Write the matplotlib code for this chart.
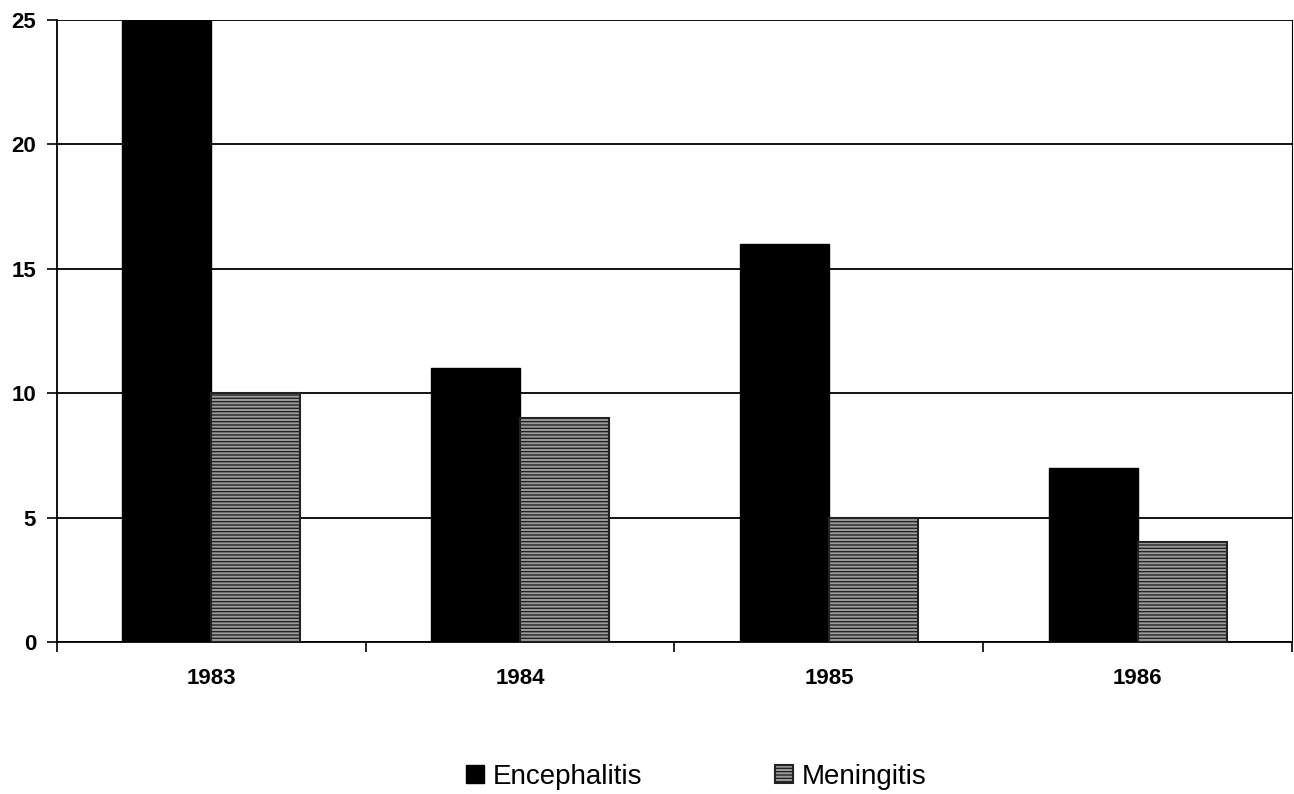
import numpy as np
import matplotlib.pyplot as plt
import matplotlib as mpl

plt.rcParams['font.family'] = ['Liberation Sans', 'DejaVu Sans']
mpl.rcParams['hatch.linewidth'] = 1.0
mpl.rcParams['hatch.color'] = '#3a3a3a'

years = ['1983', '1984', '1985', '1986']
encephalitis = [25, 11, 16, 7]
meningitis = [10, 9, 5, 4]

fig = plt.figure(figsize=(12.94, 7.94), dpi=100)
ax = fig.add_axes([0.044, 0.1914, 0.9545, 0.7836])

x = np.arange(len(years))
w = 0.288

ax.bar(x - w / 2, encephalitis, w, color='black', edgecolor='black',
       linewidth=1, label='Encephalitis', zorder=3)
ax.bar(x + w / 2, meningitis, w, color='#9c9c9c', edgecolor='#222222',
       hatch='-----', linewidth=1.5, label='Meningitis', zorder=3)

ax.set_xlim(-0.5, len(years) - 0.5)
ax.set_ylim(0, 25)
ax.set_yticks([0, 5, 10, 15, 20, 25])
ax.yaxis.grid(True, color='black', linewidth=1.3, zorder=0)
ax.set_axisbelow(True)

ax.set_xticks(x)
ax.set_xticklabels(years, fontsize=16, fontweight='bold')
ax.set_xticks(np.arange(len(years) + 1) - 0.5, minor=True)
ax.tick_params(axis='x', which='major', length=0, pad=19)
ax.tick_params(axis='x', which='minor', length=7, width=1.2, direction='out')
ax.tick_params(axis='y', length=7, width=1.2, labelsize=16, pad=8)
for lbl in ax.get_yticklabels():
    lbl.set_fontweight('bold')

for s in ['left', 'bottom']:
    ax.spines[s].set_linewidth(1.3)
ax.spines['top'].set_visible(False)
ax.spines['right'].set_linewidth(0.8)

fig.legend(loc='center', bbox_to_anchor=(0.538, 0.022), ncol=2, frameon=False,
           fontsize=20, handlelength=0.65, handleheight=0.65,
           handletextpad=0.3, columnspacing=4.8)

fig.savefig('out.png', dpi=100)
